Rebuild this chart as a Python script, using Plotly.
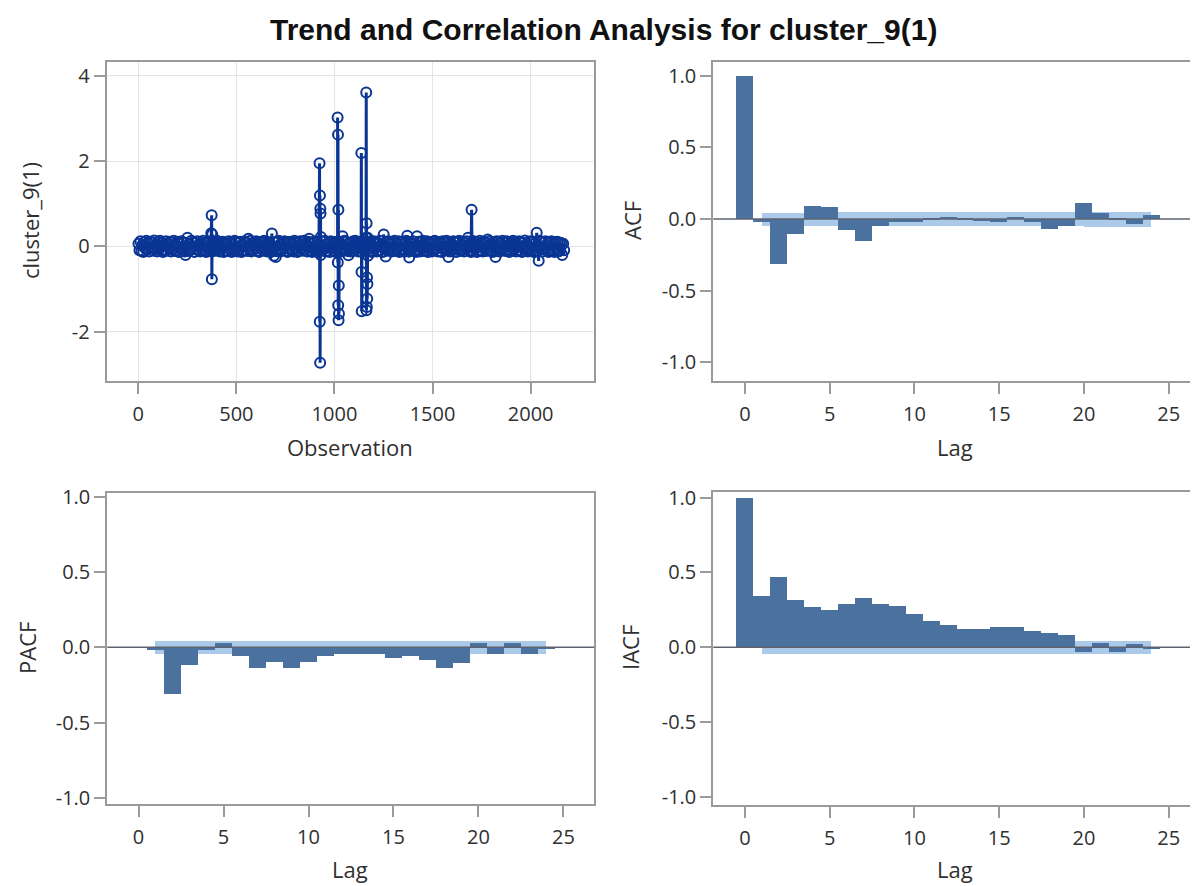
import plotly.graph_objects as go

W, H = 1198, 886
OX, OY = 8, 8  # page body margin offset

title_text = "Trend and Correlation Analysis for cluster_9(1)"
series_label = "cluster_9(1)"

# ---- time series (observation, value) ----
noise_start = 1
noise_step = 5
noise_vals = [
    0.06, -0.09, 0.12, -0.11, 0.04, -0.13, 0.10, -0.05, 0.13, -0.08, 0.07, -0.12, 0.11, -0.03, 0.09, -0.10, 0.14, -0.07, 0.05, -0.12,
    0.10, -0.06, 0.13, -0.11, 0.08, -0.13, 0.03, -0.09, 0.12, -0.10, 0.06, -0.04, 0.11, -0.12, 0.09, -0.07, 0.13, -0.11, 0.05, -0.09,
    0.11, -0.13, 0.07, -0.05, 0.12, -0.10, 0.09, -0.12, -0.20, 0.08, 0.20, -0.11, 0.06, -0.09, 0.13, -0.04, 0.10, -0.13, 0.08, -0.06,
    0.12, -0.10, 0.05, -0.12, 0.09, -0.08, 0.13, -0.11, 0.07, -0.13, 0.10, -0.05, 0.12, -0.09, 0.04, -0.12, 0.11, -0.07, 0.09, -0.10,
    0.13, -0.08, 0.06, -0.12, 0.10, -0.04, 0.11, -0.13, 0.08, -0.10, 0.05, -0.11, 0.12, -0.06, 0.09, -0.13, 0.07, -0.09, 0.13, -0.05,
    0.10, -0.12, 0.08, -0.07, 0.11, -0.13, 0.04, -0.10, 0.12, -0.08, 0.09, -0.11, 0.18, -0.06, 0.13, -0.12, 0.07, -0.09, 0.10, -0.04,
    0.12, -0.11, 0.06, -0.13, 0.09, -0.05, 0.11, -0.10, 0.13, -0.08, 0.05, -0.12, 0.10, -0.07, 0.08, -0.13, 0.30, -0.10, -0.22, 0.09,
    -0.25, 0.11, -0.08, 0.13, -0.12, 0.06, -0.10, 0.09, -0.04, 0.12, -0.11, 0.07, -0.13, 0.10, -0.06, 0.11, -0.09, 0.05, -0.12, 0.13,
    -0.07, 0.10, -0.13, 0.08, -0.11, 0.12, -0.05, 0.09, -0.10, 0.13, -0.08, 0.06, -0.12, 0.11, 0.18, -0.09, 0.07, -0.13, 0.10, -0.06,
    0.12, -0.11, 0.08, -0.13, 0.05, -0.09, 0.22, -0.10, 0.11, -0.07, 0.13, -0.12, 0.06, -0.10, 0.09, -0.13, 0.12, -0.05, 0.10, -0.11,
    0.07, -0.13, 0.11, -0.08, 0.12, -0.10, 0.05, -0.12, 0.24, -0.09, 0.13, -0.06, 0.10, -0.11, -0.21, 0.08, -0.12, 0.09, -0.04, 0.12,
    -0.10, 0.13, -0.07, 0.09, -0.12, 0.11, -0.05, 0.10, -0.13, 0.06, -0.09, 0.12, 0.20, -0.08, -0.22, 0.11, -0.10, 0.07, -0.13, 0.09,
    0.12, -0.06, 0.10, -0.12, 0.08, -0.11, 0.13, -0.09, 0.05, -0.13, 0.28, -0.07, -0.24, 0.11, -0.10, 0.12, -0.08, 0.06, -0.12, 0.10,
    -0.09, 0.13, -0.11, 0.07, -0.05, 0.12, -0.13, 0.09, -0.10, 0.11, -0.06, 0.08, -0.12, 0.13, 0.25, -0.09, -0.26, 0.10, -0.11, 0.07,
    0.12, -0.10, 0.06, -0.13, 0.24, -0.08, 0.11, -0.12, 0.09, -0.05, 0.13, -0.11, 0.07, -0.09, 0.12, -0.13, 0.10, -0.06, 0.08, -0.12,
    0.11, -0.09, 0.13, -0.07, 0.05, -0.12, 0.10, -0.11, 0.08, -0.13, 0.12, -0.06, 0.09, -0.10, 0.13, -0.08, -0.25, 0.11, -0.12, 0.07,
    -0.10, 0.12, -0.05, 0.09, -0.13, 0.11, -0.08, 0.13, -0.11, 0.06, -0.09, 0.10, -0.12, 0.08, -0.06, 0.12, 0.20, -0.10, 0.07, -0.13,
    0.09, -0.11, 0.12, -0.07, 0.10, -0.13, 0.05, -0.09, 0.13, -0.10, 0.08, -0.12, 0.11, -0.06, 0.09, -0.11, 0.16, -0.08, 0.12, -0.10,
    0.07, -0.13, 0.10, -0.09, -0.25, 0.12, -0.06, 0.11, -0.12, 0.08, -0.10, 0.13, -0.05, 0.09, -0.11, 0.12, -0.08, 0.10, -0.13, 0.06,
    0.11, -0.10, 0.13, -0.07, 0.09, -0.12, 0.05, -0.11, 0.12, -0.09, 0.10, -0.13, 0.08, -0.06, 0.14, -0.10, 0.07, -0.12, 0.11, -0.08,
    0.12, -0.09, 0.10, -0.13, 0.06, -0.11, 0.32, -0.10, -0.34, 0.13, -0.07, 0.11, -0.12, 0.09, -0.05, 0.12, -0.10, 0.08, -0.13, 0.10,
    -0.08, 0.12, -0.11, 0.07, -0.13, 0.10, -0.06, 0.11, -0.12, 0.09, -0.10, 0.08, -0.20, 0.06, -0.09,
]
spike_obs = [372, 374, 375, 377,
             924, 925, 926, 927, 928, 929, 930,
             1016, 1017, 1018, 1019, 1020, 1021, 1022, 1023, 1024,
             1137, 1138, 1139, 1140,
             1162, 1163, 1164, 1165, 1166, 1167, 1168, 1169,
             1699]
spike_vals = [0.31, 0.73, -0.77, 0.28,
              1.95, -1.77, 1.19, -2.73, 0.88, 0.77, -0.20,
              3.02, -0.38, 2.62, -1.38, 0.86, -1.73, -0.92, -1.58, 0.10,
              2.19, -0.60, -1.52, 0.10,
              3.61, -1.50, 0.54, -1.42, -0.73, -1.23, -0.88, 0.20,
              0.86]

# ---- correlation functions ----
acf_lags = list(range(0, 25))
acf_vals = [1.0, -0.02, -0.31, -0.10, 0.095, 0.083, -0.074, -0.15, -0.046,
            -0.02, -0.02, 0.003, 0.016, 0.005, -0.005, -0.018, 0.016, -0.016,
            -0.07, -0.044, 0.113, 0.046, 0.003, -0.032, 0.032]
pacf_lags = list(range(1, 25))
pacf_vals = [-0.015, -0.31, -0.115, -0.015, 0.029, -0.051, -0.133, -0.095,
             -0.133, -0.095, -0.051, -0.04, -0.04, -0.04, -0.066, -0.051,
             -0.08, -0.133, -0.104, 0.029, -0.044, 0.029, -0.044, -0.01]
iacf_lags = list(range(0, 25))
iacf_vals = [1.0, 0.342, 0.474, 0.318, 0.268, 0.25, 0.29, 0.331, 0.29, 0.28,
             0.224, 0.174, 0.15, 0.123, 0.123, 0.134, 0.134, 0.107, 0.096,
             0.083, -0.029, 0.027, -0.029, 0.022, -0.011]

# two-standard-error bands, one step per lag interval [k, k+1], k = 1..23
band_lags = list(range(1, 24))
acf_band = [0.043, 0.043, 0.047, 0.047, 0.048, 0.048, 0.048, 0.049, 0.049,
            0.049, 0.049, 0.049, 0.049, 0.049, 0.049, 0.049, 0.049, 0.049,
            0.049, 0.050, 0.050, 0.050, 0.050]
pacf_band = [0.043, 0.043, 0.043, 0.043, 0.043, 0.043, 0.043, 0.043, 0.043,
             0.043, 0.043, 0.043, 0.043, 0.043, 0.043, 0.043, 0.043, 0.043,
             0.043, 0.043, 0.043, 0.043, 0.043]
iacf_band = pacf_band

obs_x = [noise_start + noise_step * i for i in range(len(noise_vals))]
pairs = sorted(zip(obs_x + spike_obs, noise_vals + spike_vals))
ts_x = [p[0] for p in pairs]
ts_y = [p[1] for p in pairs]

SERIES_COLOR = "#0a3594"
BAR_COLOR = "#4b719e"
BAND_COLOR = "#abc9e8"
FRAME = "#9a9a9a"
TEXT = "#303030"
TICKFONT = dict(family="Open Sans", size=20, color=TEXT)
TITLEFONT = dict(family="Open Sans", size=22, color=TEXT)


def px(x):
    return (x - OX) / W


def py(y):
    return 1 - (y - OY) / H


fig = go.Figure()

fig.add_trace(go.Scatter(x=ts_x, y=ts_y, mode="lines+markers", xaxis="x", yaxis="y",
                         line=dict(color=SERIES_COLOR, width=3, simplify=False),
                         marker=dict(symbol="circle-open", size=10, color=SERIES_COLOR,
                                     line=dict(width=2, color=SERIES_COLOR))))


def add_corr(xa, ya, lags, vals, band):
    fig.add_trace(go.Bar(x=band_lags, y=[2 * b for b in band], base=[-b for b in band],
                         width=1.0, offset=0, marker=dict(color=BAND_COLOR, line=dict(width=0)),
                         xaxis=xa, yaxis=ya, hoverinfo="skip"))
    fig.add_trace(go.Bar(x=lags, y=vals, width=1.0, marker=dict(color=BAR_COLOR, line=dict(width=0)),
                         xaxis=xa, yaxis=ya))
    fig.add_shape(type="line", xref=xa + " domain", yref=ya, x0=0, x1=1, y0=0, y1=0,
                  line=dict(color="#5d6470", width=1.5), layer="above")


add_corr("x2", "y2", acf_lags, acf_vals, acf_band)
add_corr("x3", "y3", pacf_lags, pacf_vals, pacf_band)
add_corr("x4", "y4", iacf_lags, iacf_vals, iacf_band)

common_axis = dict(showline=True, mirror=True, linecolor=FRAME, linewidth=2,
                   ticks="outside", ticklen=11, tickwidth=1.5, tickcolor=FRAME,
                   tickfont=TICKFONT, zeroline=False, fixedrange=True, automargin=False)

corr_y_ticks = dict(tickvals=[-1, -0.5, 0, 0.5, 1], ticktext=["-1.0", "-0.5", "0.0", "0.5", "1.0"])
lag_ticks = dict(tickvals=[0, 5, 10, 15, 20, 25], ticktext=["0", "5", "10", "15", "20", "25"])

fig.update_layout(
    width=W, height=H,
    margin=dict(l=0, r=0, t=0, b=0, pad=0, autoexpand=False),
    paper_bgcolor="white", plot_bgcolor="white",
    showlegend=False, barmode="overlay", bargap=0,
    xaxis=dict(domain=[px(106.7), px(594)], anchor="y", range=[-161, 2323],
               tickvals=[0, 500, 1000, 1500, 2000], ticktext=["0", "500", "1000", "1500", "2000"],
               showgrid=True, gridcolor="#e4e4e4", gridwidth=1, ticklabelstandoff=3, **common_axis),
    yaxis=dict(domain=[py(380.7), py(61.7)], anchor="x", range=[-3.15, 4.33],
               tickvals=[-2, 0, 2, 4], ticktext=["-2", "0", "2", "4"],
               showgrid=True, gridcolor="#e4e4e4", gridwidth=1, ticklabelstandoff=0, **common_axis),
    xaxis2=dict(domain=[px(713.3), px(1197)], anchor="y2", range=[-1.87, 26.67],
                showgrid=False, ticklabelstandoff=3, **lag_ticks, **common_axis),
    yaxis2=dict(domain=[py(380.7), py(61.7)], anchor="x2", range=[-1.128, 1.098],
                showgrid=False, ticklabelstandoff=0, **corr_y_ticks, **common_axis),
    xaxis3=dict(domain=[px(107.3), px(594)], anchor="y3", range=[-1.84, 26.8],
                showgrid=False, ticklabelstandoff=3, **lag_ticks, **common_axis),
    yaxis3=dict(domain=[py(804), py(492.5)], anchor="x3", range=[-1.042, 1.03],
                showgrid=False, ticklabelstandoff=0, **corr_y_ticks, **common_axis),
    xaxis4=dict(domain=[px(713.3), px(1197)], anchor="y4", range=[-1.87, 26.67],
                showgrid=False, ticklabelstandoff=3, **lag_ticks, **common_axis),
    yaxis4=dict(domain=[py(805), py(491.7)], anchor="x4", range=[-1.056, 1.04],
                showgrid=False, ticklabelstandoff=0, **corr_y_ticks, **common_axis),
)

fig.add_annotation(text=title_text, x=px(603), y=py(30), xref="paper", yref="paper",
                   showarrow=False, xanchor="center", yanchor="middle",
                   font=dict(family="Liberation Sans", size=30, color="#111111", weight="bold"))

axis_titles = [
    ("Observation", 350, 447, 0),
    ("Lag", 955, 447, 0),
    ("Lag", 350, 869, 0),
    ("Lag", 955, 869, 0),
    (series_label, 30, 221, -90),
    ("ACF", 632, 221, -90),
    ("PACF", 27, 648, -90),
    ("IACF", 630, 648, -90),
]
for text, ax_px, ay_px, rot in axis_titles:
    fig.add_annotation(text=text, x=px(ax_px), y=py(ay_px), xref="paper", yref="paper",
                       showarrow=False, xanchor="center", yanchor="middle", textangle=rot,
                       font=TITLEFONT)

fig.write_html("out.html")
